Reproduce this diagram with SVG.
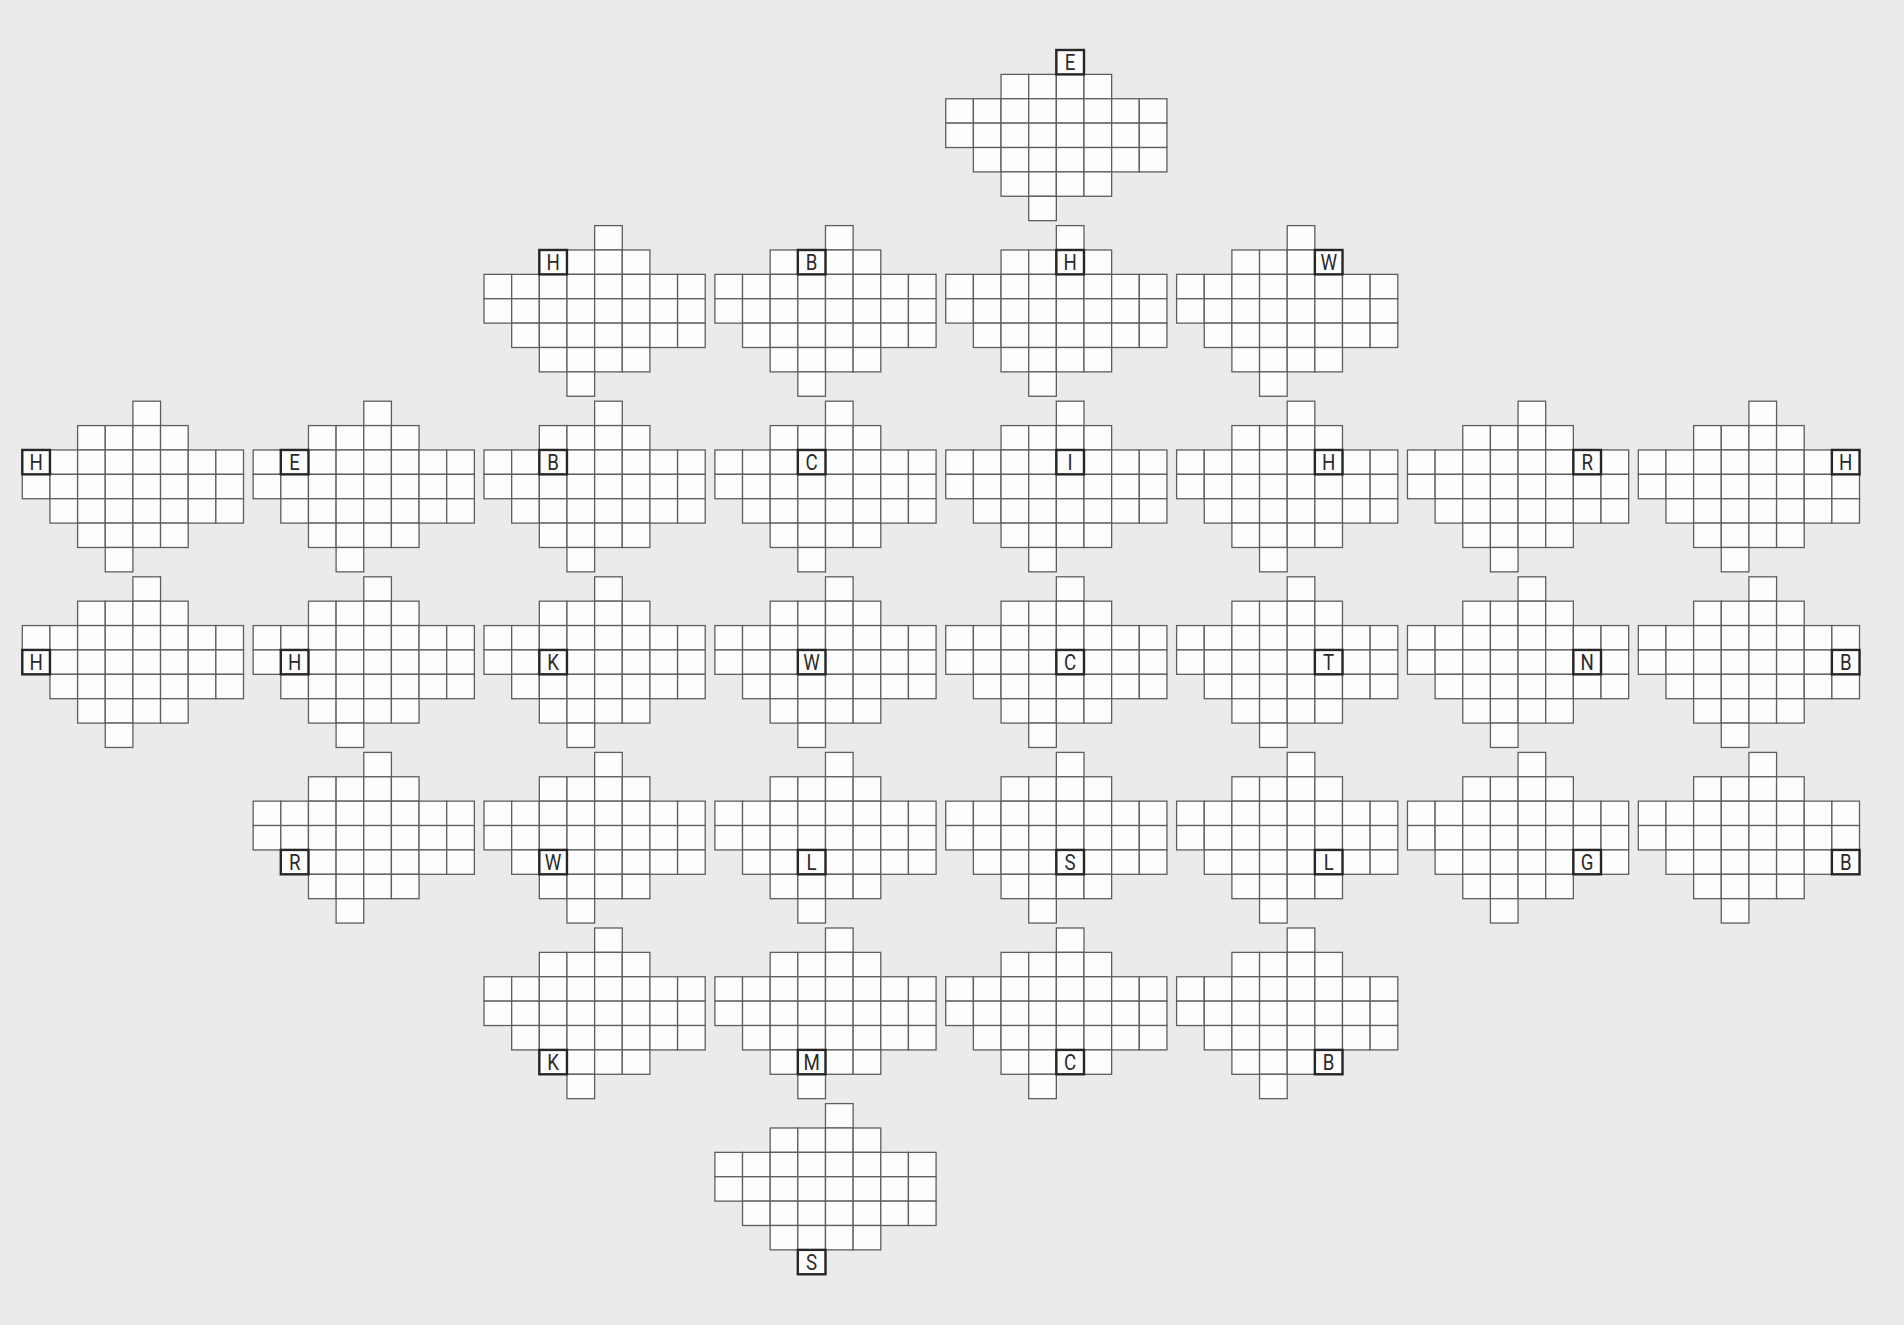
<svg xmlns="http://www.w3.org/2000/svg" xmlns:xlink="http://www.w3.org/1999/xlink" width="1904" height="1325" viewBox="0 0 1904 1325">
<style>
.c{fill:#fdfdfd;stroke:#5e5e5e;stroke-width:1.3}
.lb{fill:#fdfdfd;stroke:#262626;stroke-width:2.4}
.t{font-family:Roboto,"Liberation Sans",sans-serif;font-size:22px;fill:#2a2a2a;text-anchor:middle}
</style>
<defs>
<g id="shape">
<rect class="c" x="110.6" y="0" width="27.65" height="24.38"/>
<rect class="c" x="55.3" y="24.38" width="27.65" height="24.38"/>
<rect class="c" x="82.95" y="24.38" width="27.65" height="24.38"/>
<rect class="c" x="110.6" y="24.38" width="27.65" height="24.38"/>
<rect class="c" x="138.25" y="24.38" width="27.65" height="24.38"/>
<rect class="c" x="0" y="48.76" width="27.65" height="24.38"/>
<rect class="c" x="27.65" y="48.76" width="27.65" height="24.38"/>
<rect class="c" x="55.3" y="48.76" width="27.65" height="24.38"/>
<rect class="c" x="82.95" y="48.76" width="27.65" height="24.38"/>
<rect class="c" x="110.6" y="48.76" width="27.65" height="24.38"/>
<rect class="c" x="138.25" y="48.76" width="27.65" height="24.38"/>
<rect class="c" x="165.9" y="48.76" width="27.65" height="24.38"/>
<rect class="c" x="193.55" y="48.76" width="27.65" height="24.38"/>
<rect class="c" x="0" y="73.14" width="27.65" height="24.38"/>
<rect class="c" x="27.65" y="73.14" width="27.65" height="24.38"/>
<rect class="c" x="55.3" y="73.14" width="27.65" height="24.38"/>
<rect class="c" x="82.95" y="73.14" width="27.65" height="24.38"/>
<rect class="c" x="110.6" y="73.14" width="27.65" height="24.38"/>
<rect class="c" x="138.25" y="73.14" width="27.65" height="24.38"/>
<rect class="c" x="165.9" y="73.14" width="27.65" height="24.38"/>
<rect class="c" x="193.55" y="73.14" width="27.65" height="24.38"/>
<rect class="c" x="27.65" y="97.52" width="27.65" height="24.38"/>
<rect class="c" x="55.3" y="97.52" width="27.65" height="24.38"/>
<rect class="c" x="82.95" y="97.52" width="27.65" height="24.38"/>
<rect class="c" x="110.6" y="97.52" width="27.65" height="24.38"/>
<rect class="c" x="138.25" y="97.52" width="27.65" height="24.38"/>
<rect class="c" x="165.9" y="97.52" width="27.65" height="24.38"/>
<rect class="c" x="193.55" y="97.52" width="27.65" height="24.38"/>
<rect class="c" x="55.3" y="121.9" width="27.65" height="24.38"/>
<rect class="c" x="82.95" y="121.9" width="27.65" height="24.38"/>
<rect class="c" x="110.6" y="121.9" width="27.65" height="24.38"/>
<rect class="c" x="138.25" y="121.9" width="27.65" height="24.38"/>
<rect class="c" x="82.95" y="146.28" width="27.65" height="24.38"/>
</g>
</defs>
<rect x="0" y="0" width="1904" height="1325" fill="#ebebeb"/>

<g id="grid-0-4" transform="translate(945.74,50)"><use href="#shape"/><rect class="lb" x="110.6" y="0" width="27.65" height="24.38"/><text class="t" transform="translate(124.43,20.2) scale(0.85,1)">E</text></g>

<g id="grid-1-2" transform="translate(484.02,225.6)"><use href="#shape"/><rect class="lb" x="55.3" y="24.38" width="27.65" height="24.38"/><text class="t" transform="translate(69.13,44.58) scale(0.85,1)">H</text></g>
<g id="grid-1-3" transform="translate(714.88,225.6)"><use href="#shape"/><rect class="lb" x="82.95" y="24.38" width="27.65" height="24.38"/><text class="t" transform="translate(96.78,44.58) scale(0.85,1)">B</text></g>
<g id="grid-1-4" transform="translate(945.74,225.6)"><use href="#shape"/><rect class="lb" x="110.6" y="24.38" width="27.65" height="24.38"/><text class="t" transform="translate(124.43,44.58) scale(0.85,1)">H</text></g>
<g id="grid-1-5" transform="translate(1176.6,225.6)"><use href="#shape"/><rect class="lb" x="138.25" y="24.38" width="27.65" height="24.38"/><text class="t" transform="translate(152.08,44.58) scale(0.85,1)">W</text></g>

<g id="grid-2-0" transform="translate(22.3,401.2)"><use href="#shape"/><rect class="lb" x="0" y="48.76" width="27.65" height="24.38"/><text class="t" transform="translate(13.83,68.96) scale(0.85,1)">H</text></g>
<g id="grid-2-1" transform="translate(253.16,401.2)"><use href="#shape"/><rect class="lb" x="27.65" y="48.76" width="27.65" height="24.38"/><text class="t" transform="translate(41.48,68.96) scale(0.85,1)">E</text></g>
<g id="grid-2-2" transform="translate(484.02,401.2)"><use href="#shape"/><rect class="lb" x="55.3" y="48.76" width="27.65" height="24.38"/><text class="t" transform="translate(69.13,68.96) scale(0.85,1)">B</text></g>
<g id="grid-2-3" transform="translate(714.88,401.2)"><use href="#shape"/><rect class="lb" x="82.95" y="48.76" width="27.65" height="24.38"/><text class="t" transform="translate(96.78,68.96) scale(0.85,1)">C</text></g>
<g id="grid-2-4" transform="translate(945.74,401.2)"><use href="#shape"/><rect class="lb" x="110.6" y="48.76" width="27.65" height="24.38"/><text class="t" transform="translate(124.43,68.96) scale(0.85,1)">I</text></g>
<g id="grid-2-5" transform="translate(1176.6,401.2)"><use href="#shape"/><rect class="lb" x="138.25" y="48.76" width="27.65" height="24.38"/><text class="t" transform="translate(152.08,68.96) scale(0.85,1)">H</text></g>
<g id="grid-2-6" transform="translate(1407.46,401.2)"><use href="#shape"/><rect class="lb" x="165.9" y="48.76" width="27.65" height="24.38"/><text class="t" transform="translate(179.73,68.96) scale(0.85,1)">R</text></g>
<g id="grid-2-7" transform="translate(1638.32,401.2)"><use href="#shape"/><rect class="lb" x="193.55" y="48.76" width="27.65" height="24.38"/><text class="t" transform="translate(207.38,68.96) scale(0.85,1)">H</text></g>

<g id="grid-3-0" transform="translate(22.3,576.8)"><use href="#shape"/><rect class="lb" x="0" y="73.14" width="27.65" height="24.38"/><text class="t" transform="translate(13.83,93.34) scale(0.85,1)">H</text></g>
<g id="grid-3-1" transform="translate(253.16,576.8)"><use href="#shape"/><rect class="lb" x="27.65" y="73.14" width="27.65" height="24.38"/><text class="t" transform="translate(41.48,93.34) scale(0.85,1)">H</text></g>
<g id="grid-3-2" transform="translate(484.02,576.8)"><use href="#shape"/><rect class="lb" x="55.3" y="73.14" width="27.65" height="24.38"/><text class="t" transform="translate(69.13,93.34) scale(0.85,1)">K</text></g>
<g id="grid-3-3" transform="translate(714.88,576.8)"><use href="#shape"/><rect class="lb" x="82.95" y="73.14" width="27.65" height="24.38"/><text class="t" transform="translate(96.78,93.34) scale(0.85,1)">W</text></g>
<g id="grid-3-4" transform="translate(945.74,576.8)"><use href="#shape"/><rect class="lb" x="110.6" y="73.14" width="27.65" height="24.38"/><text class="t" transform="translate(124.43,93.34) scale(0.85,1)">C</text></g>
<g id="grid-3-5" transform="translate(1176.6,576.8)"><use href="#shape"/><rect class="lb" x="138.25" y="73.14" width="27.65" height="24.38"/><text class="t" transform="translate(152.08,93.34) scale(0.85,1)">T</text></g>
<g id="grid-3-6" transform="translate(1407.46,576.8)"><use href="#shape"/><rect class="lb" x="165.9" y="73.14" width="27.65" height="24.38"/><text class="t" transform="translate(179.73,93.34) scale(0.85,1)">N</text></g>
<g id="grid-3-7" transform="translate(1638.32,576.8)"><use href="#shape"/><rect class="lb" x="193.55" y="73.14" width="27.65" height="24.38"/><text class="t" transform="translate(207.38,93.34) scale(0.85,1)">B</text></g>

<g id="grid-4-1" transform="translate(253.16,752.4)"><use href="#shape"/><rect class="lb" x="27.65" y="97.52" width="27.65" height="24.38"/><text class="t" transform="translate(41.48,117.72) scale(0.85,1)">R</text></g>
<g id="grid-4-2" transform="translate(484.02,752.4)"><use href="#shape"/><rect class="lb" x="55.3" y="97.52" width="27.65" height="24.38"/><text class="t" transform="translate(69.13,117.72) scale(0.85,1)">W</text></g>
<g id="grid-4-3" transform="translate(714.88,752.4)"><use href="#shape"/><rect class="lb" x="82.95" y="97.52" width="27.65" height="24.38"/><text class="t" transform="translate(96.78,117.72) scale(0.85,1)">L</text></g>
<g id="grid-4-4" transform="translate(945.74,752.4)"><use href="#shape"/><rect class="lb" x="110.6" y="97.52" width="27.65" height="24.38"/><text class="t" transform="translate(124.43,117.72) scale(0.85,1)">S</text></g>
<g id="grid-4-5" transform="translate(1176.6,752.4)"><use href="#shape"/><rect class="lb" x="138.25" y="97.52" width="27.65" height="24.38"/><text class="t" transform="translate(152.08,117.72) scale(0.85,1)">L</text></g>
<g id="grid-4-6" transform="translate(1407.46,752.4)"><use href="#shape"/><rect class="lb" x="165.9" y="97.52" width="27.65" height="24.38"/><text class="t" transform="translate(179.73,117.72) scale(0.85,1)">G</text></g>
<g id="grid-4-7" transform="translate(1638.32,752.4)"><use href="#shape"/><rect class="lb" x="193.55" y="97.52" width="27.65" height="24.38"/><text class="t" transform="translate(207.38,117.72) scale(0.85,1)">B</text></g>

<g id="grid-5-2" transform="translate(484.02,928)"><use href="#shape"/><rect class="lb" x="55.3" y="121.9" width="27.65" height="24.38"/><text class="t" transform="translate(69.13,142.1) scale(0.85,1)">K</text></g>
<g id="grid-5-3" transform="translate(714.88,928)"><use href="#shape"/><rect class="lb" x="82.95" y="121.9" width="27.65" height="24.38"/><text class="t" transform="translate(96.78,142.1) scale(0.85,1)">M</text></g>
<g id="grid-5-4" transform="translate(945.74,928)"><use href="#shape"/><rect class="lb" x="110.6" y="121.9" width="27.65" height="24.38"/><text class="t" transform="translate(124.43,142.1) scale(0.85,1)">C</text></g>
<g id="grid-5-5" transform="translate(1176.6,928)"><use href="#shape"/><rect class="lb" x="138.25" y="121.9" width="27.65" height="24.38"/><text class="t" transform="translate(152.08,142.1) scale(0.85,1)">B</text></g>

<g id="grid-6-3" transform="translate(714.88,1103.6)"><use href="#shape"/><rect class="lb" x="82.95" y="146.28" width="27.65" height="24.38"/><text class="t" transform="translate(96.78,166.48) scale(0.85,1)">S</text></g>
</svg>
